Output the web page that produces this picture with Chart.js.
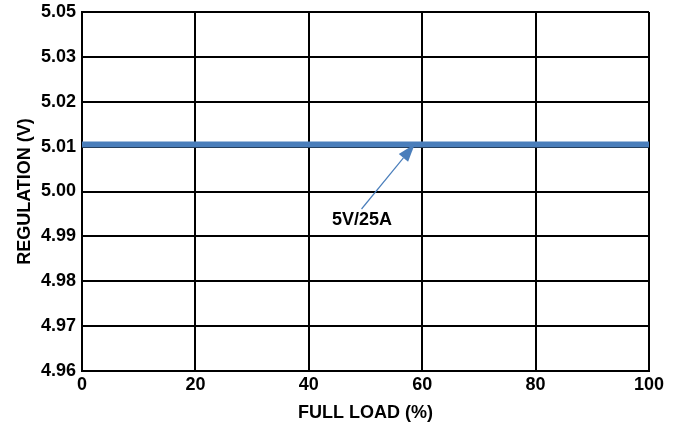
<!DOCTYPE html>
<html>
<head>
<meta charset="utf-8">
<script src="https://cdn.jsdelivr.net/npm/chart.js@4"></script>
<style>
  html, body { margin: 0; padding: 0; background: #fff; }
  #wrap { width: 678px; height: 425px; }
</style>
</head>
<body>
<div id="wrap"><canvas id="chart" width="678" height="425"></canvas></div>
<script>
// Output regulation of the 5 V rail versus load
const loadPercent = [0, 20, 40, 60, 80, 100];
const regulationV = [5.0105, 5.0105, 5.0105, 5.0105, 5.0105, 5.0105];

// Y tick values and the labels printed beside them
const yTickValues = [4.96, 4.97, 4.98, 4.99, 5.00, 5.01, 5.02, 5.03, 5.04];
const yTickLabels = ['4.96', '4.97', '4.98', '4.99', '5.00', '5.01', '5.02', '5.03', '5.05'];
const xTickLabels = ['0', '20', '40', '60', '80', '100'];

// Callout: label text, label anchor, arrow tail and arrow tip (data units)
const calloutText = '5V/25A';
const calloutLabel = { x: 49.4, y: 4.9937 };
const calloutTail = { x: 49.3, y: 4.9961 };
const calloutTip = { x: 58.7, y: 5.0106 };

const FONT = 'Liberation Sans, Arial, Helvetica, sans-serif';
const FONT_SIZE = 18;
const BLUE = '#4a7ebb';

const calloutPlugin = {
  id: 'callout',
  afterDatasetsDraw(chart) {
    const { ctx, scales: { x, y } } = chart;
    const tx = x.getPixelForValue(calloutTail.x), ty = y.getPixelForValue(calloutTail.y);
    const hx = x.getPixelForValue(calloutTip.x), hy = y.getPixelForValue(calloutTip.y);
    const ang = Math.atan2(hy - ty, hx - tx);
    const headLen = 18, headHalf = 6;
    const bx = hx - headLen * Math.cos(ang), by = hy - headLen * Math.sin(ang);
    ctx.save();
    ctx.strokeStyle = BLUE;
    ctx.fillStyle = BLUE;
    ctx.lineWidth = 1.2;
    ctx.beginPath();
    ctx.moveTo(tx, ty);
    ctx.lineTo(bx, by);
    ctx.stroke();
    ctx.beginPath();
    ctx.moveTo(hx, hy);
    ctx.lineTo(bx + headHalf * Math.sin(ang), by - headHalf * Math.cos(ang));
    ctx.lineTo(bx - headHalf * Math.sin(ang), by + headHalf * Math.cos(ang));
    ctx.closePath();
    ctx.fill();
    ctx.fillStyle = '#000';
    ctx.font = 'bold ' + FONT_SIZE + 'px ' + FONT;
    ctx.textAlign = 'center';
    ctx.textBaseline = 'middle';
    ctx.fillText(calloutText, x.getPixelForValue(calloutLabel.x), y.getPixelForValue(calloutLabel.y));
    ctx.restore();
  }
};

new Chart(document.getElementById('chart'), {
  type: 'line',
  data: {
    datasets: [{
      data: loadPercent.map((v, i) => ({ x: v, y: regulationV[i] })),
      borderColor: BLUE,
      borderWidth: 6,
      pointRadius: 0,
      tension: 0,
      fill: false
    }]
  },
  options: {
    responsive: false,
    animation: false,
    devicePixelRatio: 1,
    layout: { padding: { left: 0, top: 12, right: 29, bottom: 0 } },
    plugins: { legend: { display: false }, tooltip: { enabled: false } },
    scales: {
      x: {
        type: 'linear',
        min: 0,
        max: 100,
        afterFit(s) { s.height = 54; s.paddingLeft = 0; s.paddingRight = 0; },
        afterBuildTicks(s) { s.ticks = loadPercent.map(v => ({ value: v })); },
        ticks: {
          color: '#000',
          font: { family: FONT, size: FONT_SIZE, weight: 'bold' },
          padding: 3,
          maxRotation: 0,
          callback: (v, i) => xTickLabels[i]
        },
        grid: { color: '#000', lineWidth: 2, drawTicks: false },
        border: { color: '#000', width: 2 },
        title: {
          display: true,
          text: 'FULL LOAD (%)',
          color: '#000',
          font: { family: FONT, size: FONT_SIZE, weight: 'bold' },
          padding: { top: 0, bottom: 1 }
        }
      },
      y: {
        type: 'linear',
        min: 4.96,
        max: 5.04,
        afterFit(s) { s.width = 82; s.paddingTop = 0; s.paddingBottom = 0; },
        afterBuildTicks(s) { s.ticks = yTickValues.map(v => ({ value: v })); },
        ticks: {
          color: '#000',
          font: { family: FONT, size: FONT_SIZE, weight: 'bold' },
          padding: 6,
          callback: (v, i) => yTickLabels[i]
        },
        grid: { color: '#000', lineWidth: 2, drawTicks: false },
        border: { color: '#000', width: 2 },
        title: {
          display: true,
          text: 'REGULATION (V)',
          color: '#000',
          font: { family: FONT, size: FONT_SIZE, weight: 'bold' },
          padding: { top: 14, bottom: 0 }
        }
      }
    }
  },
  plugins: [calloutPlugin]
});
</script>
</body>
</html>
